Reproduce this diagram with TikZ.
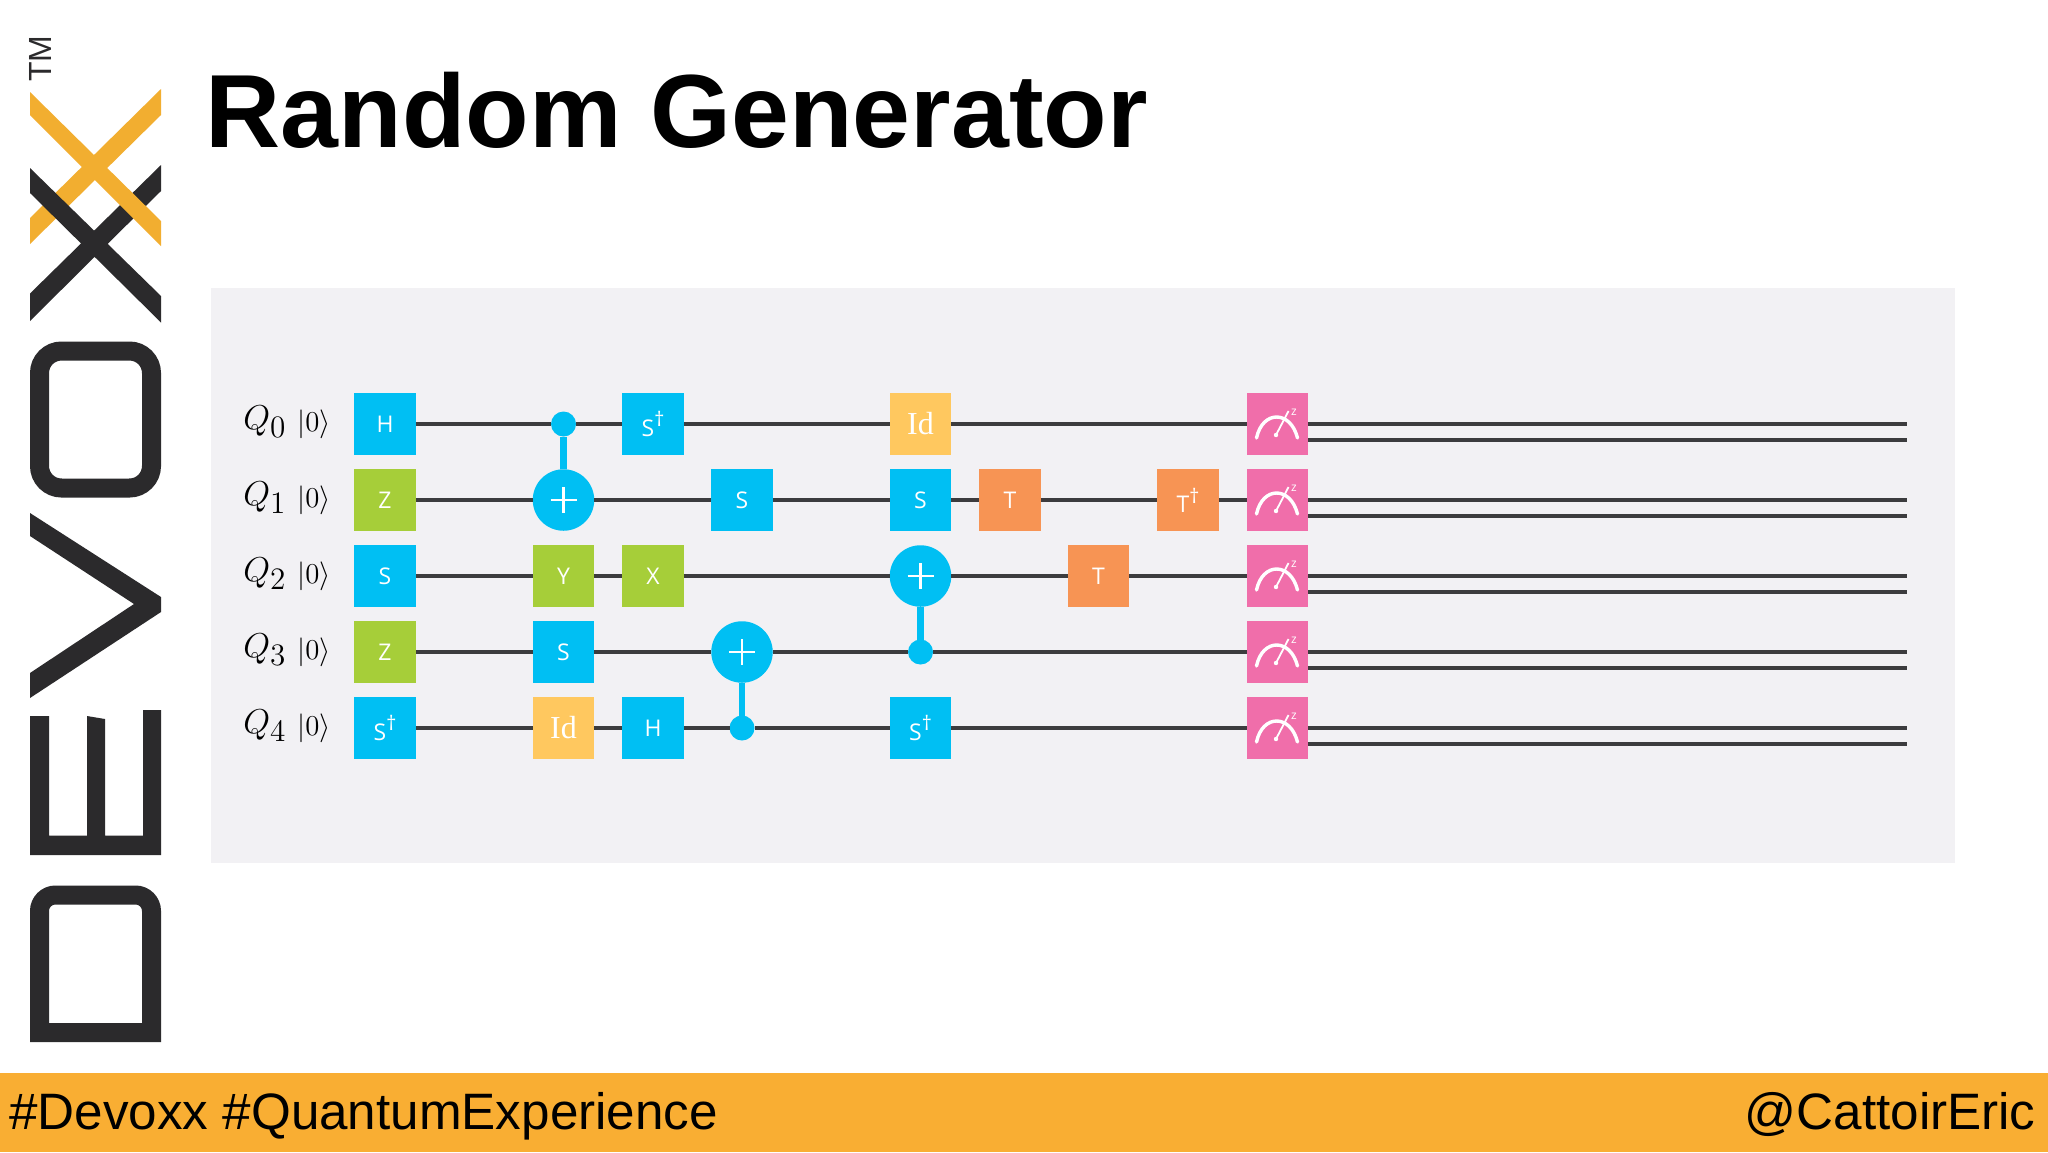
\documentclass[tikz,border=0pt]{standalone}
\usepackage{fontspec}
\usepackage{tikz}
\setmainfont{Liberation Sans}
\newfontfamily\gatefont{Open Sans}
\newfontfamily\idfont{Liberation Serif}
\usetikzlibrary{calc,positioning,shapes.geometric}
\definecolor{gatecyan}{HTML}{00BFF3}
\definecolor{gategreen}{HTML}{A6CE39}
\definecolor{gateorange}{HTML}{F79454}
\definecolor{gatepink}{HTML}{F06EAA}
\definecolor{gateyellow}{HTML}{FFC85F}
\definecolor{panelgrey}{HTML}{F2F1F4}
\definecolor{wiredark}{HTML}{3C3C3E}
\definecolor{logodark}{HTML}{2B2A2C}
\definecolor{logoorange}{HTML}{F2AE30}
\definecolor{barorange}{HTML}{F9AE33}
\tikzstyle{gate} = [rectangle, minimum size=30.75pt, inner sep=0pt, outer sep=0pt, text=white, font=\gatefont\fontsize{11.5}{12}\selectfont]
\tikzstyle{cyangate} = [gate, fill=gatecyan]
\tikzstyle{greengate} = [gate, fill=gategreen]
\tikzstyle{orangegate} = [gate, fill=gateorange]
\tikzstyle{idgate} = [gate, fill=gateyellow, font=\idfont\fontsize{16}{17}\selectfont]
\tikzstyle{meter} = [gate, fill=gatepink]
\tikzstyle{target} = [circle, fill=gatecyan, minimum size=30.75pt, inner sep=0pt, outer sep=0pt]
\tikzstyle{control} = [circle, fill=gatecyan, minimum size=12.5pt, inner sep=0pt, outer sep=0pt]
\tikzstyle{wire} = [wiredark, line width=2.3pt]
\tikzstyle{stem} = [gatecyan, line width=3.2pt]
\tikzstyle{qlabel} = [anchor=base west, inner sep=0pt, font=\fontsize{17}{18}\selectfont]
\tikzstyle{ketlabel} = [anchor=center, inner sep=0pt, font=\fontsize{14.5}{16}\selectfont]
\tikzstyle{logostroke} = [logodark, line width=9.5pt]
\newcommand{\dg}[1]{\raisebox{-0.1em}{#1}\raisebox{0.3em}{\fontsize{10}{10}\selectfont †}}
\begin{document}
\begin{tikzpicture}[x=0.5pt,y=-0.5pt]
\useasboundingbox (0,0) rectangle (2048,1152);
\fill[white] (0,0) rectangle (2048,1152);
\fill[panelgrey] (211,288) rectangle (1955,863);
\fill[barorange] (0,1073) rectangle (2048,1152);
% logo
\draw (40.5,58.5) node (tm) [rotate=90, inner sep=0pt, text=logodark, font=\fontsize{16}{17}\selectfont] {TM};
\fill[logodark] (161,165)--(161,191)--(30,321)--(30,293.5)--cycle;
\fill[logoorange] (30,92)--(30,115)--(161,246)--(161,221)--cycle;
\fill[logoorange] (161,89)--(161,115)--(30,244)--(30,218)--cycle;
\fill[logodark] (30,168)--(30,193)--(161,322.5)--(161,296)--cycle;
\draw[logostroke, rounded corners=11pt] (39.5,351) rectangle (151.5,488);
\fill[logodark] (30,513)--(161,597)--(161,612)--(30,698)--(30,673)--(134,604)--(30,536)--cycle;
\fill[logodark] (30,855)--(161,855)--(161,710)--(143,710)--(143,835.5)--(105,835.5)--(105,719)--(87,716)--(87,835.5)--(49,835.5)--(49,716)--(30,716)--cycle;
\draw[logostroke, line join=miter] (39.5,1032.5)--(39.5,922) [rounded corners=8pt] --(39.5,895)--(151.5,895) [sharp corners] --(151.5,1032.5)--cycle;
% title and footer
\draw (205.5,147) node (title) [anchor=base west, inner sep=0pt, font=\bfseries\fontsize{52}{54}\selectfont] {Random Generator};
\draw (9,1129) node (tags) [anchor=base west, inner sep=0pt, font=\fontsize{25.6}{28}\selectfont] {\#Devoxx \#QuantumExperience};
\draw (2036,1129) node (handle) [anchor=base east, inner sep=0pt, font=\fontsize{25.6}{28}\selectfont] {@CattoirEric};
% labels, one per qubit
\foreach \i/\y in {0/424,1/500,2/576,3/652,4/728} {
  \draw (243,\y+5) node (q\i) [qlabel] {$Q_{\scalebox{1.3}{$\scriptstyle\i$}}$};
  \draw (314,\y) node (k\i) [ketlabel] {$|0\rangle$};
  \draw (1277.5,\y) node (m\i) [meter] {};
  \coordinate (e\i) at (1907,\y);
  \coordinate (f\i) at (1907,\y+16);
}
% gates
\draw (385,424) node (h0) [cyangate] {H};
\draw (385,500) node (z1) [greengate] {Z};
\draw (385,576) node (s2) [cyangate] {S};
\draw (385,652) node (z3) [greengate] {Z};
\draw (385,728) node (sd4) [cyangate] {\dg{S}};
\draw (563.5,424) node (c0) [control] {};
\draw (563.5,500) node (t1) [target] {};
\draw (563.5,576) node (y2) [greengate] {Y};
\draw (563.5,652) node (s3) [cyangate] {S};
\draw (563.5,728) node (id4) [idgate] {Id};
\draw (653,424) node (sd0) [cyangate] {\dg{S}};
\draw (653,576) node (x2) [greengate] {X};
\draw (653,728) node (h4) [cyangate] {H};
\draw (742,500) node (s1) [cyangate] {S};
\draw (742,652) node (t3) [target] {};
\draw (742,728) node (c4) [control] {};
\draw (920.5,424) node (id0) [idgate] {Id};
\draw (920.5,500) node (sb1) [cyangate] {S};
\draw (920.5,576) node (t2) [target] {};
\draw (920.5,652) node (c3) [control] {};
\draw (920.5,728) node (sd4b) [cyangate] {\dg{S}};
\draw (1010,500) node (t1a) [orangegate] {T};
\draw (1098.5,576) node (t2a) [orangegate] {T};
\draw (1188,500) node (td1) [orangegate] {\dg{T}};
% wires
\draw[wire] (h0)--(c0)--(sd0)--(id0)--(m0)--(e0);
\draw[wire] (z1)--(t1)--(s1)--(sb1)--(t1a)--(td1)--(m1)--(e1);
\draw[wire] (s2)--(y2)--(x2)--(t2)--(t2a)--(m2)--(e2);
\draw[wire] (z3)--(s3)--(t3)--(c3)--(m3)--(e3);
\draw[wire] (sd4)--(id4)--(h4)--(c4)--(sd4b)--(m4)--(e4);
\foreach \i in {0,...,4} \draw[wire] (m\i.east |- f\i)--(f\i);
% controlled gates
\draw[stem] (c0)--(t1);
\draw[stem] (c4)--(t3);
\draw[stem] (c3)--(t2);
\foreach \t in {t1,t3,t2} {
  \draw[white, line width=1.3pt] ($(\t)+(-13,0)$)--($(\t)+(13,0)$);
  \draw[white, line width=1.3pt] ($(\t)+(0,-13)$)--($(\t)+(0,13)$);
}
% meter dials
\foreach \i in {0,...,4} {
  \begin{scope}[shift={(m\i)}]
  \draw[white, line width=1.7pt, line cap=round] (-21,14) .. controls (-15,-14) and (13,-14) .. (20,14);
  \draw[white, line width=0.9pt] (-1.5,11)--(11,-13);
  \fill[white] (-1.5,11) circle (2.2);
  \draw (16.5,-12) node (mz\i) [inner sep=0pt, text=white, font=\gatefont\fontsize{6}{6}\selectfont] {z};
  \end{scope}
}
\end{tikzpicture}
\end{document}
